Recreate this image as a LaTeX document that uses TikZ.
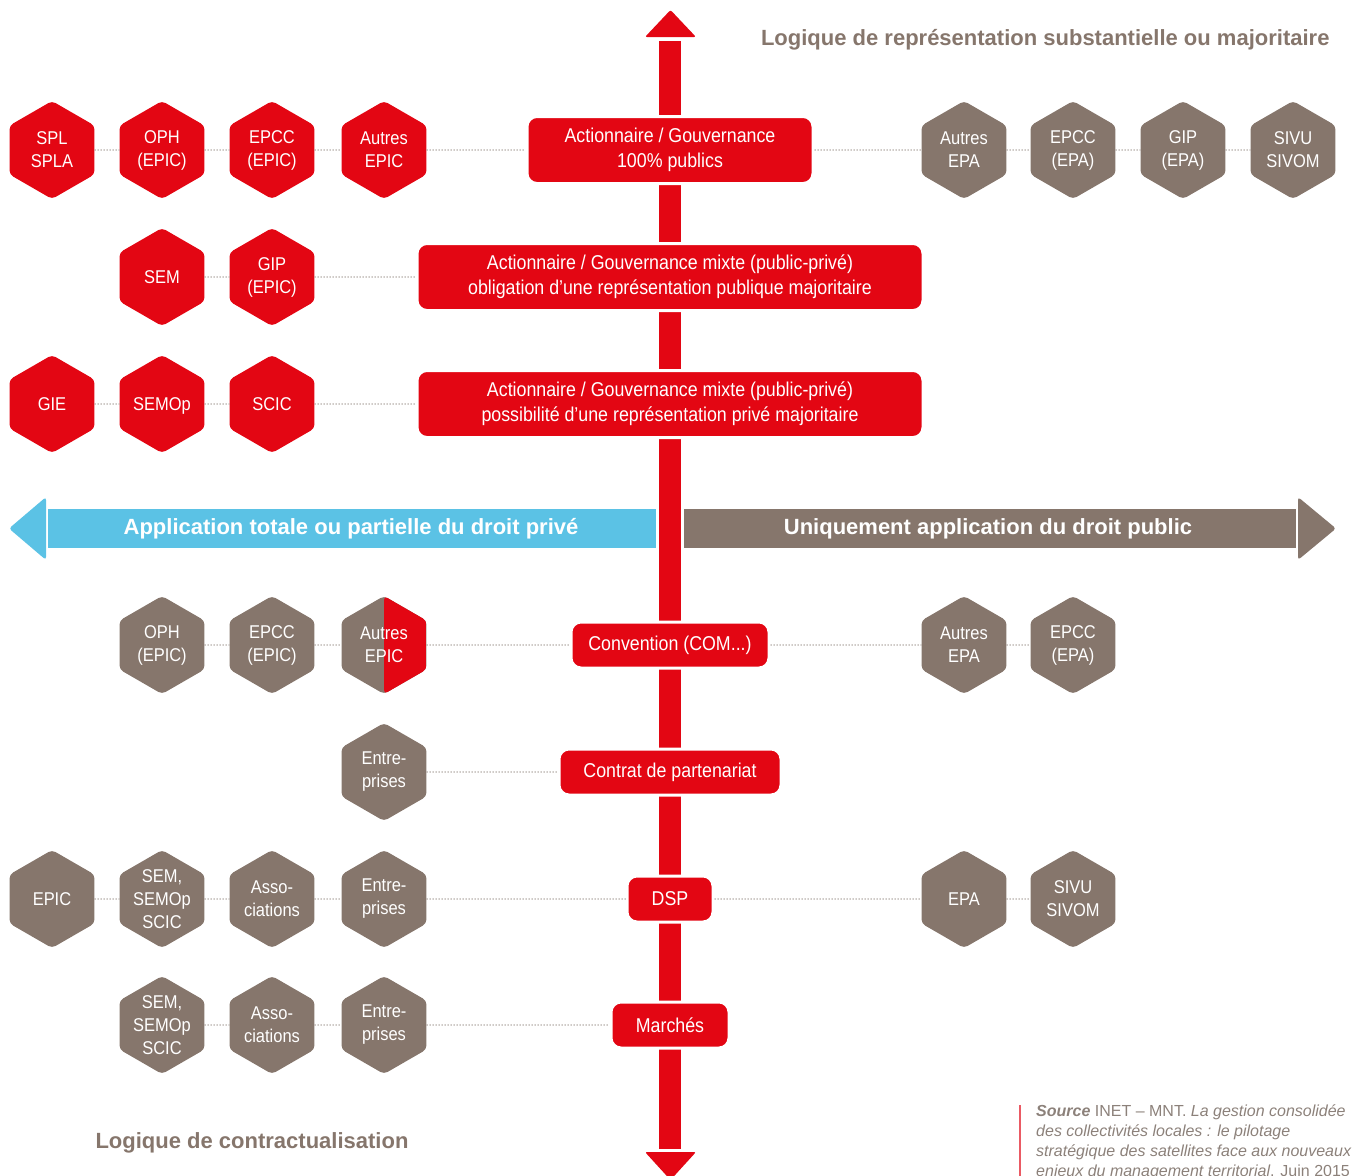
\documentclass[tikz,border=0pt]{standalone}
\usepackage{fontspec}
\setmainfont{Liberation Sans}
\newfontfamily\narrowfont[FakeStretch=0.89]{Liberation Sans}
\usetikzlibrary{shapes.geometric}

\definecolor{satred}{HTML}{E30613}
\definecolor{satbrown}{HTML}{86766C}
\definecolor{satblue}{HTML}{5BC2E5}
\definecolor{dotgrey}{HTML}{8F857E}
\definecolor{srcgrey}{HTML}{8C817A}
\definecolor{srcred}{HTML}{EA5A64}

\tikzset{
  hexa/.style={regular polygon, regular polygon sides=6, shape border rotate=30,
    minimum size=98pt, inner sep=0pt, rounded corners=4pt, text=white, align=center,
    font=\narrowfont\fontsize{18.5}{23}\selectfont},
  privhex/.style={hexa, fill=satred},
  pubhex/.style={hexa, fill=satbrown},
  modebox/.style={rectangle, rounded corners=10pt, fill=satred, draw=white, line width=3pt,
    text=white, align=center, minimum height=46pt, inner sep=0pt,
    font=\narrowfont\fontsize{20}{25}\selectfont},
  arrowlabel/.style={text=white, font=\bfseries\fontsize{22}{26}\selectfont},
  title/.style={text=satbrown, font=\bfseries\fontsize{22}{26}\selectfont},
  link/.style={dotgrey, line width=1.2pt, dash pattern=on 1pt off 2pt},
}

\begin{document}
\begin{tikzpicture}[x=1pt, y=-1pt]
    \useasboundingbox (0,0) rectangle (1353,1176);

    % Draw the vertical arrow
    \fill[satred] (659,41) rectangle (681,1149);
    \fill[satred, rounded corners=2pt] (645,37) -- (696,37) -- (670.5,10) -- cycle;
    \fill[satred, rounded corners=2pt] (645,1152) -- (696,1152) -- (670.5,1180) -- cycle;

    % Draw the horizontal arrows
    \fill[satblue] (48,509) rectangle (656,548);
    \fill[satblue, rounded corners=3pt] (46,497) -- (46,560) -- (9,528.5) -- cycle;
    \fill[satbrown] (684,509) rectangle (1296,548);
    \fill[satbrown, rounded corners=3pt] (1298,497) -- (1298,560) -- (1336,528.5) -- cycle;
    \node[arrowlabel] (privlabel) at (351,528.5) {Application totale ou partielle du droit privé};
    \node[arrowlabel] (publabel) at (988,528.5) {Uniquement application du droit public};

    % Titles
    \node[title, anchor=east] (toptitle) at (1333,40) {Logique de représentation substantielle ou majoritaire};
    \node[title, anchor=west] (bottomtitle) at (92,1143) {Logique de contractualisation};

    % Row 1
    \node[privhex] (spl) at (52,150) {SPL\\SPLA};
    \node[privhex] (oph) at (162,150) {OPH\\(EPIC)};
    \node[privhex] (epcc) at (272,150) {EPCC\\(EPIC)};
    \node[privhex] (autepic) at (384,150) {Autres\\EPIC};
    \node[modebox, minimum width=286pt, minimum height=67pt] (public) at (670,150)
        {Actionnaire / Gouvernance\\100\% publics};
    \node[pubhex] (autepa) at (964,150) {Autres\\EPA};
    \node[pubhex] (epccepa) at (1073,150) {EPCC\\(EPA)};
    \node[pubhex] (gipepa) at (1183,150) {GIP\\(EPA)};
    \node[pubhex] (sivu) at (1293,150) {SIVU\\SIVOM};

    % Row 2
    \node[privhex] (sem) at (162,277) {SEM};
    \node[privhex] (gipepic) at (272,277) {GIP\\(EPIC)};
    \node[modebox, minimum width=506pt, minimum height=67pt] (mixtepub) at (670,277)
        {Actionnaire / Gouvernance mixte (public-privé)\\obligation d’une représentation publique majoritaire};

    % Row 3
    \node[privhex] (gie) at (52,404) {GIE};
    \node[privhex, text depth=0pt] (semop) at (162,404) {SEMOp};
    \node[privhex] (scic) at (272,404) {SCIC};
    \node[modebox, minimum width=506pt, minimum height=67pt] (mixtepriv) at (670,404)
        {Actionnaire / Gouvernance mixte (public-privé)\\possibilité d’une représentation privé majoritaire};

    % Row 4
    \node[pubhex] (ophcv) at (162,645) {OPH\\(EPIC)};
    \node[pubhex] (epcccv) at (272,645) {EPCC\\(EPIC)};
    \node[pubhex, path picture={\fill[satred] (path picture bounding box.north)
        rectangle (path picture bounding box.south east);}] (autcv) at (384,645) {Autres\\EPIC};
    \node[modebox, minimum width=198pt] (convention) at (670,645) {Convention (COM...)};
    \node[pubhex] (autepacv) at (964,645) {Autres\\EPA};
    \node[pubhex] (epccepacv) at (1073,645) {EPCC\\(EPA)};

    % Row 5
    \node[pubhex] (entcp) at (384,772) {Entre-\\prises};
    \node[modebox, minimum width=222pt] (contrat) at (670,772) {Contrat de partenariat};

    % Row 6
    \node[pubhex] (epicdsp) at (52,899) {EPIC};
    \node[pubhex] (semdsp) at (162,899) {SEM,\\SEMOp\\SCIC};
    \node[pubhex] (assodsp) at (272,899) {Asso-\\ciations};
    \node[pubhex] (entdsp) at (384,899) {Entre-\\prises};
    \node[modebox, minimum width=86pt] (dsp) at (670,899) {DSP};
    \node[pubhex] (epadsp) at (964,899) {EPA};
    \node[pubhex] (sivudsp) at (1073,899) {SIVU\\SIVOM};

    % Row 7
    \node[pubhex] (semmp) at (162,1025) {SEM,\\SEMOp\\SCIC};
    \node[pubhex] (assomp) at (272,1025) {Asso-\\ciations};
    \node[pubhex] (entmp) at (384,1025) {Entre-\\prises};
    \node[modebox, minimum width=118pt] (marches) at (670,1025) {Marchés};

    % Dotted links
    \foreach \a/\b in {spl/oph, oph/epcc, epcc/autepic, autepic/public, public/autepa,
        autepa/epccepa, epccepa/gipepa, gipepa/sivu,
        sem/gipepic, gipepic/mixtepub,
        gie/semop, semop/scic, scic/mixtepriv,
        ophcv/epcccv, epcccv/autcv, autcv/convention, convention/autepacv, autepacv/epccepacv,
        entcp/contrat,
        epicdsp/semdsp, semdsp/assodsp, assodsp/entdsp, entdsp/dsp, dsp/epadsp, epadsp/sivudsp,
        semmp/assomp, assomp/entmp, entmp/marches}
        \draw[link] (\a) -- (\b);

    % Source
    \draw[srcred, line width=2pt] (1020,1105) -- (1020,1180);
    \node[anchor=north west, align=left, inner sep=0pt, text=srcgrey,
        font=\fontsize{16}{20}\selectfont] (source) at (1036,1105)
        {\textbf{\textit{Source}} INET – MNT. \textit{La gestion consolidée}\\
         \textit{des collectivités locales : le pilotage}\\
         \textit{stratégique des satellites face aux nouveaux}\\
         \textit{enjeux du management territorial}. Juin 2015};
\end{tikzpicture}
\end{document}
